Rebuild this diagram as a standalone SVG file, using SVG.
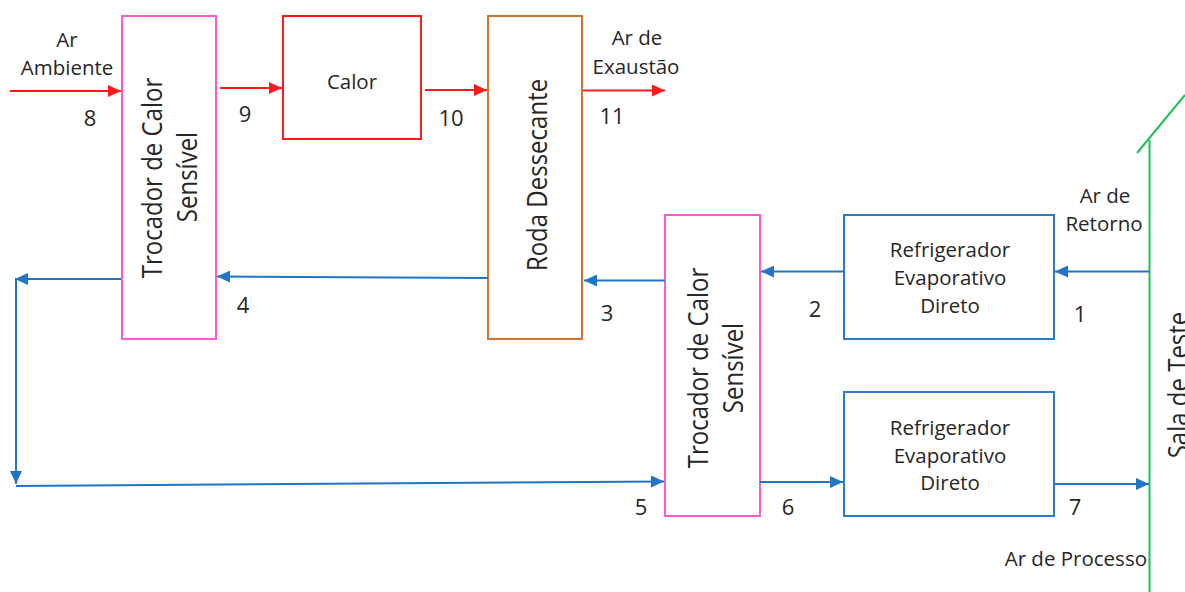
<svg xmlns="http://www.w3.org/2000/svg" width="1185" height="592" viewBox="0 0 1185 592">
<style>
text{font-family:"Open Sans","DejaVu Sans",sans-serif;fill:#262626}
.t{font-size:20.5px;text-anchor:middle}
.n{font-size:22px;text-anchor:middle}
.r{font-size:24px;text-anchor:middle}
.box{fill:#fff;stroke-width:2}
.pink{stroke:#FF5AD6}
.red{stroke:#FF1A1A}
.org{stroke:#D2722D}
.blu{stroke:#2B7BD0}
.cr{stroke:#FF1A1A;stroke-width:2;fill:none;marker-end:url(#ar)}
.cb{stroke:#2075C7;stroke-width:2;fill:none;marker-end:url(#ab)}
</style>
<defs>
<marker id="ar" markerUnits="userSpaceOnUse" markerWidth="14" markerHeight="12" refX="13" refY="6" orient="auto"><path d="M0,0 L13,6 L0,12 Z" fill="#FF1A1A"/></marker>
<marker id="ab" markerUnits="userSpaceOnUse" markerWidth="14" markerHeight="12" refX="13" refY="6" orient="auto"><path d="M0,0 L13,6 L0,12 Z" fill="#2075C7"/></marker>
</defs>

<g id="sala-de-teste">
<path d="M1137,153 L1185,95" stroke="#1DBF5A" stroke-width="2" fill="none"/>
<path d="M1149.5,140 L1149.5,592" stroke="#1DBF5A" stroke-width="2" fill="none"/>
<text class="r" transform="translate(1188,385) scale(1.12,1) rotate(-90)">Sala de Teste</text>
</g>

<g id="trocador1">
<rect class="box pink" x="122" y="16" width="94" height="323"/>
<text class="r" transform="translate(162,178) scale(1.12,1) rotate(-90)">Trocador de Calor</text>
<text class="r" transform="translate(197,177) scale(1.12,1) rotate(-90)">Sensível</text>
</g>

<g id="calor">
<rect class="box red" x="283" y="16" width="138" height="123"/>
<text class="t" x="352" y="89">Calor</text>
</g>

<g id="roda">
<rect class="box org" x="488" y="16" width="94" height="323"/>
<text class="r" transform="translate(547,175) scale(1.12,1) rotate(-90)">Roda Dessecante</text>
</g>

<g id="trocador2">
<rect class="box pink" x="665" y="215" width="95" height="301"/>
<text class="r" transform="translate(708,368) scale(1.12,1) rotate(-90)">Trocador de Calor</text>
<text class="r" transform="translate(743,368) scale(1.12,1) rotate(-90)">Sensível</text>
</g>

<g id="refrigerador1">
<rect class="box blu" x="844" y="215" width="210" height="124"/>
<text class="t" x="950" y="257">Refrigerador</text>
<text class="t" x="950" y="285">Evaporativo</text>
<text class="t" x="950" y="313">Direto</text>
</g>

<g id="refrigerador2">
<rect class="box blu" x="844" y="392" width="210" height="124"/>
<text class="t" x="950" y="435">Refrigerador</text>
<text class="t" x="950" y="463">Evaporativo</text>
<text class="t" x="950" y="490">Direto</text>
</g>

<g id="connectors">
<path class="cr" d="M10,91 L121,91"/>
<path class="cr" d="M220,88 L282,88"/>
<path class="cr" d="M425,90 L487,90"/>
<path class="cr" d="M583,90.5 L665,90.5"/>
<path class="cb" d="M1149,271.5 L1055,271.5"/>
<path class="cb" d="M844,271.5 L761,271.5"/>
<path class="cb" d="M665,280.5 L584,280.5"/>
<path class="cb" d="M488,278 L217,276.5"/>
<path class="cb" d="M121,279 L15,279"/>
<path class="cb" d="M16,279 L16,484"/>
<path class="cb" d="M16,486 L664,481.5"/>
<path class="cb" d="M760,482 L843,482"/>
<path class="cb" d="M1054,484 L1149,484"/>
</g>

<g id="labels">
<text class="t" x="67" y="47">Ar</text>
<text class="t" x="67" y="75">Ambiente</text>
<text class="t" x="637" y="45">Ar de</text>
<text class="t" x="636" y="74">Exaustão</text>
<text class="t" x="1105" y="203">Ar de</text>
<text class="t" x="1104" y="231">Retorno</text>
<text class="t" x="1147" y="566" style="text-anchor:end">Ar de Processo</text>
<text class="n" x="90" y="126">8</text>
<text class="n" x="245" y="122">9</text>
<text class="n" x="451" y="126">10</text>
<text class="n" x="612" y="124">11</text>
<text class="n" x="243" y="313">4</text>
<text class="n" x="607" y="321">3</text>
<text class="n" x="815" y="317">2</text>
<text class="n" x="1080" y="322">1</text>
<text class="n" x="641" y="515">5</text>
<text class="n" x="788" y="515">6</text>
<text class="n" x="1075" y="515">7</text>
</g>
</svg>
